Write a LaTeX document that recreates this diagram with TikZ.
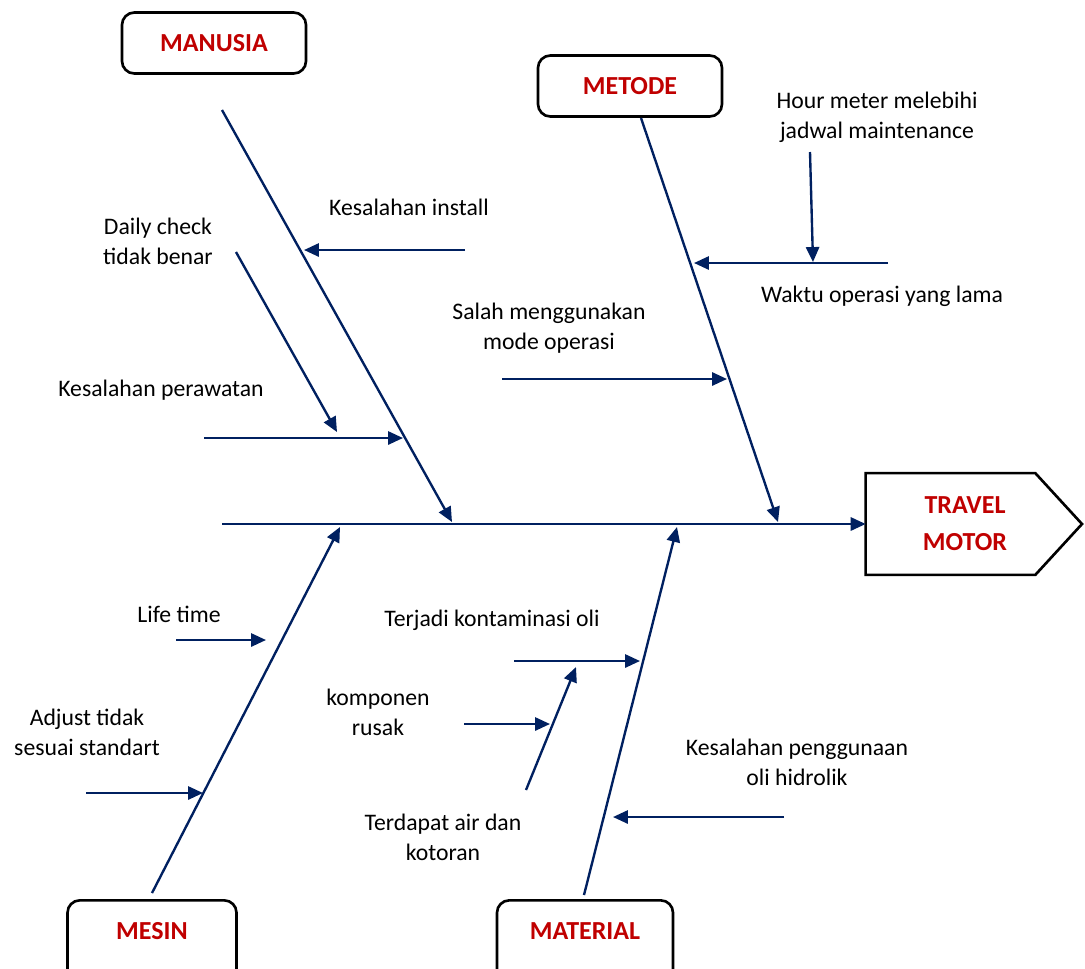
\documentclass[tikz,border=0pt]{standalone}
\usepackage{fontspec}
\setmainfont{Carlito}
\usepackage{tikz}
\usetikzlibrary{arrows.meta}
\definecolor{bonecol}{HTML}{002060}
\definecolor{catred}{HTML}{C00000}
\tikzset{
    catbox/.style={draw=black, line width=1.5pt, rounded corners=7pt, fill=white,
        text=catred, font=\bfseries\fontsize{14.8}{21}\selectfont,
        minimum width=3.68cm, minimum height=1.22cm},
    bonearrow/.style={draw=bonecol, line width=1.35pt,
        -{Triangle[length=8.5pt,width=7.5pt]}},
    cause/.style={align=center, font=\fontsize{13.5}{17}\selectfont}}

\begin{document}
\begin{tikzpicture}[x=0.02cm, y=-0.02cm]
    \clip (0,0) rectangle (1085,968);

    % categories and effect
    \node[catbox] (manusia) at (214,43) {MANUSIA};
    \node[catbox] (metode) at (630,86) {METODE};
    \node[catbox, minimum width=3.38cm, anchor=north, text height=18.8pt, text depth=30pt] (mesin) at (152,899) {MESIN};
    \node[catbox, minimum width=3.52cm, anchor=north, text height=18.8pt, text depth=30pt] (material) at (585,899) {MATERIAL};
    \node[minimum width=3.38cm, minimum height=2.02cm] (motor) at (950.5,524) {};
    \draw[line width=1.5pt, line join=miter] (motor.north west) -- (motor.north east) -- (1082,524)
        -- (motor.south east) -- (motor.south west) -- cycle;
    \node[align=center, text=catred, font=\bfseries\fontsize{14.8}{21}\selectfont] (motor text) at (965,524) {TRAVEL\\MOTOR};

    % bones
    \coordinate (spine) at (222,524);
    \coordinate (manusia tail) at (222,110);
    \coordinate (manusia head) at (452,522);
    \coordinate (metode tail) at (641,118);
    \coordinate (metode head) at (778,522);
    \coordinate (mesin tail) at (152,893);
    \coordinate (mesin head) at (340,527);
    \coordinate (material tail) at (584,895);
    \coordinate (material head) at (677,527);

    \draw[bonearrow] (spine) -- (motor.west);
    \draw[bonearrow] (manusia tail) -- (manusia head);
    \draw[bonearrow] (metode tail) -- (metode head);
    \draw[bonearrow] (mesin tail) -- (mesin head);
    \draw[bonearrow] (material tail) -- (material head);

    % manusia
    \node[cause] (install) at (409,207) {Kesalahan install};
    \node[cause] (daily) at (158,241) {Daily check\\tidak benar};
    \node[cause] (perawatan) at (161,390) {Kesalahan perawatan};
    \coordinate (install a) at (465,250);
    \coordinate (install b) at (304,250);
    \coordinate (daily a) at (236,252);
    \coordinate (daily b) at (337,432);
    \coordinate (perawatan a) at (204,438);
    \coordinate (perawatan b) at (403,438);
    \draw[bonearrow] (install a) -- (install b);
    \draw[bonearrow] (daily a) -- (daily b);
    \draw[bonearrow] (perawatan a) -- (perawatan b);

    % metode
    \node[cause] (hour) at (877,117) {Hour meter melebihi\\jadwal maintenance};
    \node[cause] (waktu) at (882,296) {Waktu operasi yang lama};
    \node[cause] (mode) at (549,328) {Salah menggunakan\\mode operasi};
    \coordinate (hour a) at (810,152);
    \coordinate (hour b) at (813,262);
    \coordinate (waktu a) at (888,263);
    \coordinate (waktu b) at (694,263);
    \coordinate (mode a) at (502,379);
    \coordinate (mode b) at (727,379);
    \draw[bonearrow] (hour a) -- (hour b);
    \draw[bonearrow] (waktu a) -- (waktu b);
    \draw[bonearrow] (mode a) -- (mode b);

    % mesin
    \node[cause] (life) at (179,614) {Life time};
    \node[cause] (adjust) at (87,732) {Adjust tidak\\sesuai standart};
    \coordinate (life a) at (176,640);
    \coordinate (life b) at (266,640);
    \coordinate (adjust a) at (86,793);
    \coordinate (adjust b) at (203,793);
    \draw[bonearrow] (life a) -- (life b);
    \draw[bonearrow] (adjust a) -- (adjust b);

    % material
    \node[cause] (kontam) at (492,620) {Terjadi kontaminasi oli};
    \node[cause] (komponen) at (378,712) {komponen\\rusak};
    \node[cause] (air) at (443,837) {Terdapat air dan\\kotoran};
    \node[cause] (oli) at (797,762) {Kesalahan penggunaan\\oli hidrolik};
    \coordinate (kontam a) at (514,661);
    \coordinate (kontam b) at (640,661);
    \coordinate (air a) at (526,790);
    \coordinate (air b) at (576,667);
    \coordinate (komponen a) at (464,724);
    \coordinate (komponen b) at (550,724);
    \coordinate (oli a) at (784,817);
    \coordinate (oli b) at (613,817);
    \draw[bonearrow] (kontam a) -- (kontam b);
    \draw[bonearrow] (air a) -- (air b);
    \draw[bonearrow] (komponen a) -- (komponen b);
    \draw[bonearrow] (oli a) -- (oli b);

\end{tikzpicture}
\end{document}
